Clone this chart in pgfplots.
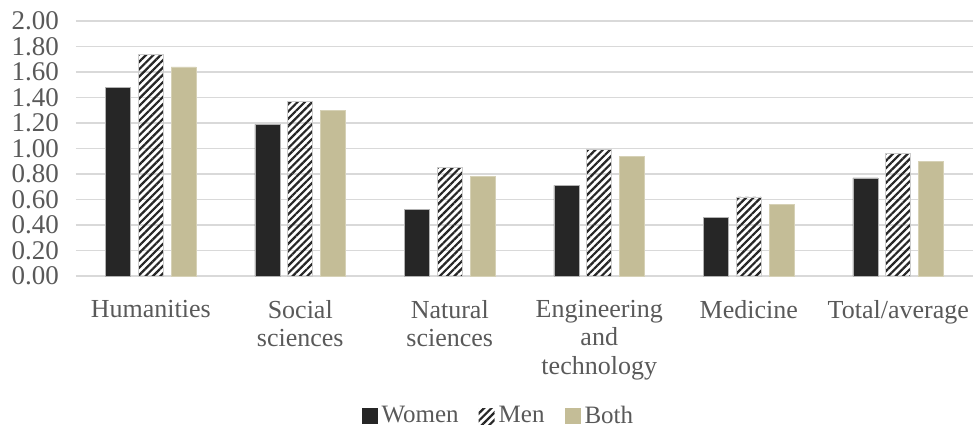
\documentclass[border=0pt]{standalone}
\usepackage{pgfplots}
\pgfplotsset{compat=1.18}
\usetikzlibrary{patterns.meta}
\usepackage{fontspec}
\setmainfont{Liberation Serif}
\definecolor{txtgray}{HTML}{595959}
\definecolor{gridgray}{HTML}{D9D9D9}
\definecolor{barblack}{HTML}{262626}
\definecolor{barbeige}{HTML}{C4BD97}
\begin{document}
\begin{tikzpicture}
\begin{axis}[
  scale only axis,
  width=448.5pt, height=127.5pt,
  ymin=0, ymax=2,
  ytick={0,0.2,...,2.01},
  xmin=-0.5, xmax=5.5,
  xtick={0,...,5},
  xticklabels={Humanities,{Social\\sciences},{Natural\\sciences},{Engineering\\and\\technology},Medicine,Total/average},
  xticklabel style={align=center, yshift=-8.5pt, font=\fontsize{13}{14.3}\selectfont},
  yticklabel style={/pgf/number format/fixed, /pgf/number format/fixed zerofill, /pgf/number format/precision=2, xshift=-5pt, font=\fontsize{13.5}{15}\selectfont},
  /pgf/number format/assume math mode=true,
  ticklabel style={text=txtgray},
  major tick length=0pt,
  axis line style={draw=none},
  ymajorgrids, major grid style={gridgray, line width=0.75pt},
  bar width=0.167,
  legend columns=3,
  legend style={at={(0.472,-0.55)}, anchor=center, draw=none, font=\fontsize{12.5}{14}\selectfont, text=txtgray,
    /tikz/every even column/.append style={column sep=8pt}},
  legend image code/.code={\draw[#1,draw=none] (0pt,-4pt) rectangle (8pt,4pt);},
]
\path (rel axis cs:0,0) coordinate (O);
\addplot[ybar, bar shift=-0.22, fill=barblack, draw=gray!60, line width=0.3pt]
  coordinates {(0,1.48) (1,1.19) (2,0.52) (3,0.71) (4,0.46) (5,0.77)};
\addplot[ybar, bar shift=0, pattern={Lines[angle=45,distance=2.6pt,line width=1.1pt]}, pattern color=barblack, draw=gray!40, line width=0.3pt]
  coordinates {(0,1.74) (1,1.37) (2,0.85) (3,0.99) (4,0.62) (5,0.96)};
\addplot[ybar, bar shift=0.22, fill=barbeige, draw=barbeige!70!white, line width=0.3pt]
  coordinates {(0,1.64) (1,1.30) (2,0.78) (3,0.94) (4,0.56) (5,0.90)};
\legend{Women, Men, Both}
\end{axis}
\pgfresetboundingbox
\path[use as bounding box] (O) ++(-38pt,-76.5pt) rectangle ++(486.5pt,214.5pt);
\end{tikzpicture}
\end{document}
